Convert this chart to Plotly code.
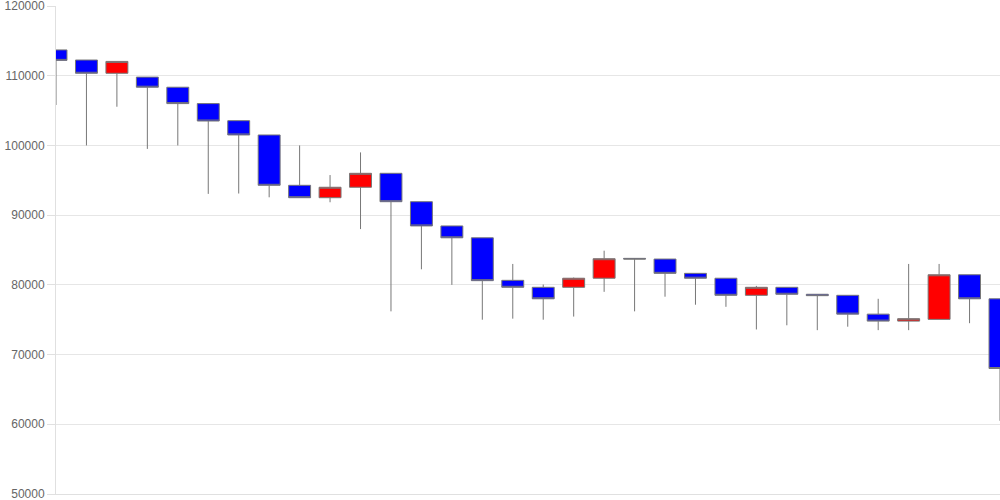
import plotly.graph_objects as go

periods = list(range(32))
open_ = [113700, 112250, 110350, 109800, 108350, 106000, 103550, 101500, 94280, 92500,
         94000, 96000, 91930, 88450, 86750, 80650, 79650, 79650, 80950, 83800,
         83700, 81650, 80950, 78500, 79650, 78650, 78500, 75800, 74800, 75050,
         81450, 78000]
high = [113700, 112250, 112050, 109800, 108350, 106000, 103550, 101500, 100000, 95750,
        99000, 96000, 91930, 88450, 86750, 83000, 80050, 81050, 84900, 83800,
        83700, 81650, 80950, 79850, 79650, 78650, 78500, 78000, 83000, 83000,
        81450, 78000]
low = [105800, 100000, 105550, 99500, 100000, 93050, 93100, 92560, 92500, 91850,
       88000, 76200, 82230, 80000, 75000, 75150, 75000, 75450, 79000, 76200,
       78300, 77150, 76850, 73600, 74200, 73500, 74000, 73500, 73500, 75050,
       74500, 60500]
close = [112200, 110350, 112050, 108350, 106000, 103500, 101500, 94280, 92500, 94000,
         96000, 91930, 88450, 86750, 80600, 79650, 78000, 80950, 83750, 83700,
         81650, 80950, 78500, 79650, 78650, 78450, 75800, 74800, 75150, 81450,
         78000, 68000]

y_ticks = [50000, 60000, 70000, 80000, 90000, 100000, 110000, 120000]

fig = go.Figure(go.Candlestick(
    x=periods, open=open_, high=high, low=low, close=close,
    increasing=dict(fillcolor="#ff0000", line=dict(color="#777777", width=1)),
    decreasing=dict(fillcolor="#0000ff", line=dict(color="#777777", width=1)),
    whiskerwidth=0,
    showlegend=False,
))

fig.update_layout(
    width=1000, height=500,
    autosize=False,
    margin=dict(l=56, r=0, t=6, b=6, pad=0, autoexpand=False),
    paper_bgcolor="white", plot_bgcolor="white",
    boxgap=0.28, boxgroupgap=0,
    font=dict(family="Liberation Sans, Arial, sans-serif", size=12, color="#666666"),
    xaxis=dict(range=[0, 31], autorange=False, showticklabels=False, showgrid=False,
               zeroline=False, automargin=False,
               rangeslider=dict(visible=False), showline=True, linecolor="#e0e0e0",
               ticks=""),
    yaxis=dict(range=[50000, 120000], autorange=False, tickvals=y_ticks, tickformat="d",
               automargin=False, ticklabeloverflow="allow",
               showgrid=True, gridcolor="#e6e6e6", zeroline=False,
               showline=True, linecolor="#e0e0e0", ticks="outside",
               ticklen=8, tickcolor="#e0e0e0", tickfont=dict(size=12, color="#666666")),
)

fig.write_html("out.html", config={"displayModeBar": False},
               post_script="document.body.style.margin='0';document.body.style.overflow='hidden';")
